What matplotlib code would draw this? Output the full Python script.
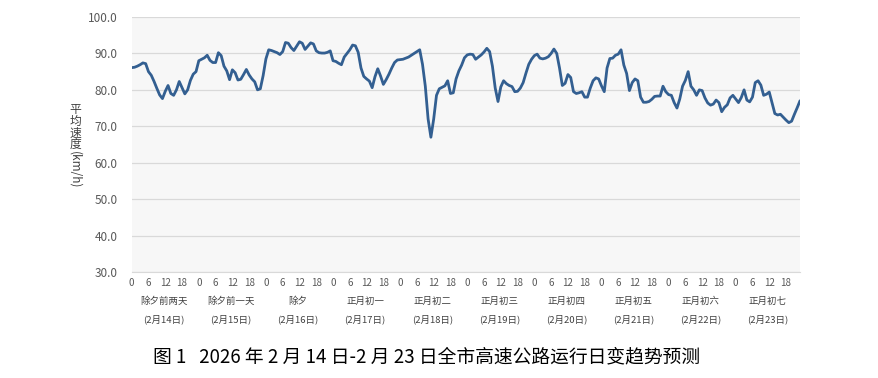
import matplotlib
matplotlib.use("Agg")
import matplotlib.pyplot as plt
import numpy as np
from matplotlib.transforms import blended_transform_factory

plt.rcParams['font.family'] = ['Noto Sans CJK SC', 'DejaVu Sans']

day_names = ["除夕前两天", "除夕前一天", "除夕", "正月初一", "正月初二",
             "正月初三", "正月初四", "正月初五", "正月初六", "正月初七"]
day_dates = ["(2月14日)", "(2月15日)", "(2月16日)", "(2月17日)", "(2月18日)",
             "(2月19日)", "(2月20日)", "(2月21日)", "(2月22日)", "(2月23日)"]
hour_labels = ["0", "6", "12", "18"]
y_ticks = [30, 40, 50, 60, 70, 80, 90, 100]

speed = [
    # 2/14
    86.1, 86.2, 86.5, 86.9, 87.4, 87.2, 85.0, 84.0, 82.3, 80.4, 78.6, 77.6,
    79.6, 81.2, 79.0, 78.5, 80.0, 82.3, 80.6, 78.9, 80.0, 82.6, 84.3, 85.0,
    # 2/15
    88.0, 88.4, 88.8, 89.5, 88.1, 87.5, 87.5, 90.2, 89.4, 86.5, 85.2, 82.8,
    85.5, 84.7, 82.7, 82.9, 84.2, 85.6, 84.1, 83.0, 82.2, 80.0, 80.3, 83.9,
    # 2/16
    88.5, 91.0, 90.8, 90.5, 90.2, 89.7, 90.5, 93.0, 92.8, 91.6, 90.8, 92.0,
    93.2, 92.8, 91.1, 92.0, 92.9, 92.6, 90.7, 90.2, 90.1, 90.1, 90.3, 90.7,
    # 2/17
    88.0, 87.8, 87.3, 86.9, 89.0, 90.0, 91.0, 92.3, 92.1, 90.3, 86.0, 83.7,
    83.0, 82.4, 80.6, 83.6, 85.8, 83.8, 81.5, 82.8, 84.3, 86.0, 87.5, 88.2,
    # 2/18
    88.3, 88.4, 88.7, 89.0, 89.5, 90.0, 90.5, 91.0, 87.0, 81.0, 72.0, 67.0,
    72.0, 78.5, 80.3, 80.7, 81.1, 82.5, 79.0, 79.2, 83.0, 85.2, 86.8, 88.8,
    # 2/19
    89.6, 89.8, 89.7, 88.4, 89.0, 89.6, 90.4, 91.4, 90.5, 86.5, 80.5, 76.8,
    80.8, 82.5, 81.7, 81.2, 80.9, 79.5, 79.6, 80.5, 82.0, 84.6, 87.0, 88.4,
    # 2/20
    89.4, 89.8, 88.7, 88.5, 88.7, 89.1, 90.0, 91.2, 90.0, 86.0, 81.2, 81.8,
    84.2, 83.4, 79.5, 79.0, 79.2, 79.5, 78.0, 78.0, 80.5, 82.5, 83.3, 83.0,
    # 2/21
    81.1, 79.5, 86.0, 88.6, 88.7, 89.5, 89.8, 91.0, 86.8, 84.5, 79.8, 82.0,
    83.0, 82.5, 78.0, 76.6, 76.6, 76.8, 77.4, 78.2, 78.3, 78.3, 81.0, 79.5,
    # 2/22
    78.7, 78.5, 76.5, 75.0, 77.5, 81.0, 82.6, 85.0, 81.0, 80.0, 78.5, 80.0,
    79.8, 77.8, 76.4, 75.8, 76.1, 77.2, 76.5, 74.0, 75.2, 75.9, 77.8, 78.5,
    # 2/23
    77.5, 76.5, 77.9, 80.0, 77.2, 76.7, 78.0, 82.0, 82.5, 81.3, 78.5, 78.8,
    79.4, 76.5, 73.5, 73.1, 73.3, 72.5, 71.7, 71.0, 71.4, 73.3, 75.1, 77.0,
]

hours = np.arange(len(speed))
n_days = len(day_names)

fig = plt.figure(figsize=(8.79, 3.78), dpi=100)
ax = fig.add_axes([131.7/879, 1 - 272/378, (800 - 131.7)/879, (272 - 17)/378])
ax.set_facecolor('#f7f7f7')
ax.plot(hours, speed, color='#335f91', lw=2.0, solid_joinstyle='round',
        solid_capstyle='round')

ax.set_xlim(0, len(speed) - 1)
ax.set_ylim(30, 100)
ax.set_yticks(y_ticks)
ax.set_yticklabels([f"{v:.1f}" for v in y_ticks], fontsize=8.5, color='#595959')
ax.yaxis.grid(True, color='#d9d9d9', lw=0.9)
ax.set_axisbelow(True)
xt = np.arange(0, len(speed), 6)
ax.set_xticks(xt)
ax.set_xticklabels([hour_labels[i % 4] for i in range(len(xt))], fontsize=7, color='#595959')
ax.tick_params(length=0, pad=4)
ax.tick_params(axis='y', pad=10)
for s in ['top', 'right', 'left']:
    ax.spines[s].set_visible(False)
ax.spines['bottom'].set_color('#d9d9d9')

tr = blended_transform_factory(ax.transData, fig.transFigure)
for d in range(n_days):
    cx = d * 24 + 11.5
    ax.text(cx, 1 - 301.5/378, day_names[d], transform=tr, ha='center', va='center',
            fontsize=6.8, color='#404040')
    ax.text(cx, 1 - 319.5/378, day_dates[d], transform=tr, ha='center', va='center',
            fontsize=6.8, color='#404040')

# y label: upright CJK chars, rotated latin part
ylab_x = 75/879
for i, ch in enumerate("平均速度"):
    fig.text(ylab_x, 1 - (110 + i*11.5)/378, ch, ha='center', va='center', fontsize=8.5, color='#404040')
fig.text(ylab_x, 1 - 170/378, "(km/h)", ha='center', va='center', rotation=-90,
         fontsize=8.5, color='#404040')

fig.text(427/879, 1 - 357/378, "图 1   2026 年 2 月 14 日-2 月 23 日全市高速公路运行日变趋势预测",
         ha='center', va='center', fontsize=13.5, color='black')

fig.savefig('out.png', dpi=100)
